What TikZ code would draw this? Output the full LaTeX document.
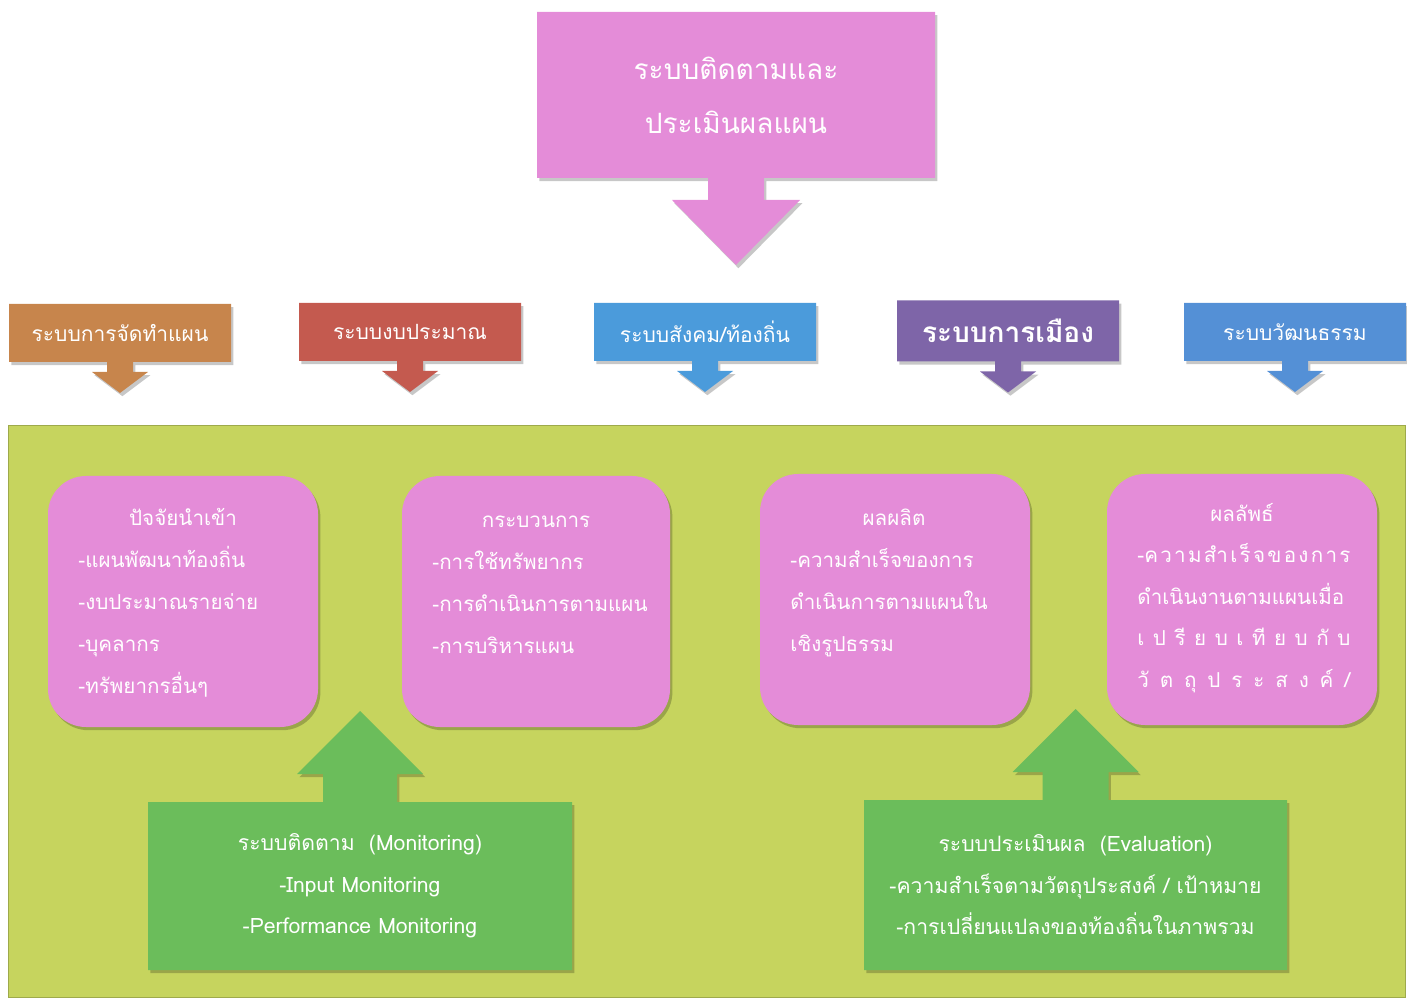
\documentclass[tikz,border=0pt]{standalone}
\usepackage{fontspec}
\newfontfamily\thai[Script=Thai]{Loma}
\usetikzlibrary{calc,backgrounds,shadows}
\definecolor{pinkc}{HTML}{E48CD8}
\definecolor{brownc}{HTML}{C7854C}
\definecolor{redc}{HTML}{C45A4F}
\definecolor{blueA}{HTML}{4B9BDB}
\definecolor{purplec}{HTML}{7E65A8}
\definecolor{blueB}{HTML}{5490D6}
\definecolor{greenc}{HTML}{6BBD5B}
\definecolor{olivec}{HTML}{C6D45E}
\newcommand\calloutdown[6]{%
  \fill[#2,shadowed] (#1.north west) -- (#1.north east) -- (#1.south east)
   -- ($(#1.south)+(#3,0)$) -- ($(#1.south)+(#3,#5)$) -- ($(#1.south)+(#4,#5)$)
   -- ($(#1.south)+(0,#5+#6)$) -- ($(#1.south)+(-#4,#5)$) -- ($(#1.south)+(-#3,#5)$)
   -- ($(#1.south)+(-#3,0)$) -- (#1.south west) -- cycle;}
\newcommand\calloutup[6]{%
  \fill[#2,shadowed] (#1.south west) -- (#1.south east) -- (#1.north east)
   -- ($(#1.north)+(#3,0)$) -- ($(#1.north)+(#3,-#5)$) -- ($(#1.north)+(#4,-#5)$)
   -- ($(#1.north)+(0,-#5-#6)$) -- ($(#1.north)+(-#4,-#5)$) -- ($(#1.north)+(-#3,-#5)$)
   -- ($(#1.north)+(-#3,0)$) -- (#1.north west) -- cycle;}
\newcommand\spreadline[1]{\makebox[106.5pt][l]{#1}}
\begin{document}
\begin{tikzpicture}[x=0.5pt,y=-0.5pt,
  shadowed/.style={drop shadow={opacity=0.22,shadow xshift=1.2pt,shadow yshift=-1.6pt,fill=black}},
  lbl/.style={inner sep=0pt,outer sep=0pt,text=white,align=center,
    font=\thai\fontsize{10.5}{12}\selectfont,minimum width=111pt,minimum height=29pt},
  gbox/.style={inner sep=0pt,outer sep=0pt,text=white,align=center,
    font=\thai\fontsize{10.6}{20.75}\selectfont},
  pinkbox/.style={fill=pinkc,rounded corners=19pt,minimum width=135pt,minimum height=125.5pt,
    inner sep=0pt,outer sep=0pt,shadowed},
  ptitle/.style={inner sep=0pt,text=white,anchor=base,font=\thai\fontsize{10.3}{21}\selectfont},
  plist/.style={inner sep=0pt,text=white,anchor=base west,align=left,font=\thai\fontsize{10.3}{21}\selectfont}]
\useasboundingbox (0,0) rectangle (1407,999);

% top callout
\node[lbl,minimum width=199pt,minimum height=83pt,font=\thai\fontsize{14}{27}\selectfont]
  (title) at (736,95) {ระบบติดตามและ\\ประเมินผลแผน};

% five system callouts
\node[lbl] (s1) at (120,333) {ระบบการจัดทำแผน};
\node[lbl] (s2) at (410,332) {ระบบงบประมาณ};
\node[lbl] (s3) at (705,332) {ระบบสังคม/ท้องถิ่น};
\node[lbl,minimum height=30.5pt,font=\thai\bfseries\fontsize{14}{15}\selectfont] (s4) at (1008,331) {ระบบการเมือง};
\node[lbl] (s5) at (1295,332) {ระบบวัฒนธรรม};

% pink boxes
\node[pinkbox] (p1) at (183,601.5) {};
\node[pinkbox,minimum width=134pt] (p2) at (536,601.5) {};
\node[pinkbox] (p3) at (895,599.5) {};
\node[pinkbox] (p4) at (1242,599.5) {};

% texts (base west anchor = baseline of the last line)
\node[ptitle] (h1) at (183,525) {ปัจจัยนำเข้า};
\node[plist] (l1) at (78,693) {-แผนพัฒนาท้องถิ่น\\-งบประมาณรายจ่าย\\-บุคลากร\\-ทรัพยากรอื่นๆ};
\node[ptitle] (h2) at (536,527) {กระบวนการ};
\node[plist] (l2) at (432,653) {-การใช้ทรัพยากร\\-การดำเนินการตามแผน\\-การบริหารแผน};
\node[ptitle] (h3) at (894,525) {ผลผลิต};
\node[plist] (l3) at (790,651) {-ความสำเร็จของการ\\ดำเนินการตามแผนใน\\เชิงรูปธรรม};
\node[ptitle] (h4) at (1242,522) {ผลลัพธ์};
\node[plist,font=\thai\fontsize{10.3}{20.7}\selectfont] (l4) at (1137,687)
  {\spreadline{-ค\hfill ว\hfill า\hfill ม\hfill สำ\hfill เ\hfill ร็\hfill จ\hfill ข\hfill อ\hfill ง\hfill ก\hfill า\hfill ร}\\
   \spreadline{ดำเนินงานตามแผนเมื่อ}\\
   \spreadline{เ\hfill ป\hfill รี\hfill ย\hfill บ\hfill เ\hfill ที\hfill ย\hfill บ\hfill กั\hfill บ}\\
   \spreadline{วั\hfill ต\hfill ถุ\hfill ป\hfill ร\hfill ะ\hfill ส\hfill ง\hfill ค์\hfill /}};

% green callouts
\node[gbox,minimum width=212pt,minimum height=84pt] (mon) at (360,886)
  {ระบบติดตาม~~(Monitoring)\\-Input Monitoring\\-Performance Monitoring};
\node[gbox,minimum width=211.5pt,minimum height=85pt] (eva) at (1075.5,885)
  {ระบบประเมินผล~~(Evaluation)\\-ความสำเร็จตามวัตถุประสงค์ / เป้าหมาย\\-การเปลี่ยนแปลงของท้องถิ่นในภาพรวม};

\begin{scope}[on background layer]
  \node[fill=olivec,draw=olivec!80!black,line width=0.4pt,minimum width=698.5pt,minimum height=286pt,
    inner sep=0pt,outer sep=0pt] (panel) at (706.5,711) {};
  \calloutdown{title}{pinkc}{28}{64}{22}{65}
  \calloutdown{s1}{brownc}{13}{28}{10}{21}
  \calloutdown{s2}{redc}{13}{28}{10}{21}
  \calloutdown{s3}{blueA}{13}{28}{10}{21}
  \calloutdown{s4}{purplec}{13}{28}{10}{21}
  \calloutdown{s5}{blueB}{13}{28}{10}{21}
  \calloutup{mon}{greenc}{37}{63}{28}{63}
  \calloutup{eva}{greenc}{33}{63}{28}{63}
\end{scope}
\end{tikzpicture}
\end{document}
